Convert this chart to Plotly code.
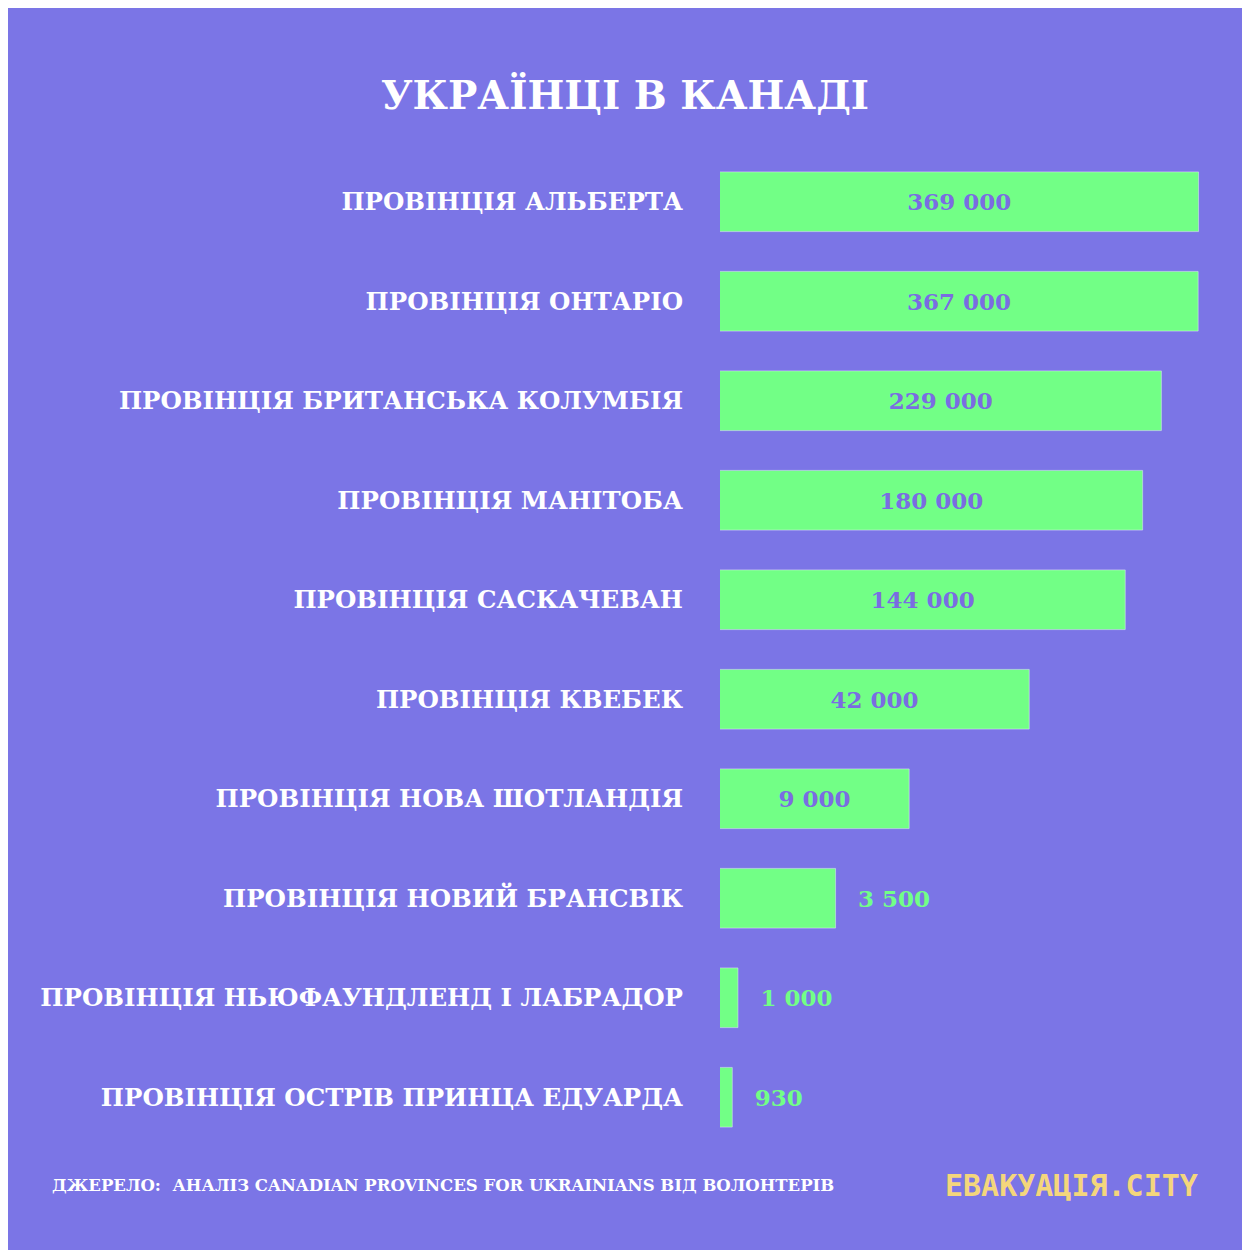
import plotly.graph_objects as go

provinces = ["ПРОВІНЦІЯ АЛЬБЕРТА","ПРОВІНЦІЯ ОНТАРІО","ПРОВІНЦІЯ БРИТАНСЬКА КОЛУМБІЯ",
             "ПРОВІНЦІЯ МАНІТОБА","ПРОВІНЦІЯ САСКАЧЕВАН","ПРОВІНЦІЯ КВЕБЕК",
             "ПРОВІНЦІЯ НОВА ШОТЛАНДІЯ","ПРОВІНЦІЯ НОВИЙ БРАНСВІК",
             "ПРОВІНЦІЯ НЬЮФАУНДЛЕНД І ЛАБРАДОР","ПРОВІНЦІЯ ОСТРІВ ПРИНЦА ЕДУАРДА"]
values = [369000, 367000, 229000, 180000, 144000, 42000, 9000, 3500, 1000, 930]
labels = ["369 000","367 000","229 000","180 000","144 000","42 000","9 000","3 500","1 000","930"]

BG = "#7B75E6"
GREEN = "#72FF86"
PURPLE = "#7A6CE2"
FONT = "DejaVu Serif"

positions = ["inside" if v >= 9000 else "outside" for v in values]
tcolors = [PURPLE if v >= 9000 else GREEN for v in values]
texts = [l if v >= 9000 else "\u2002 " + l for l, v in zip(labels, values)]

fig = go.Figure(go.Bar(
    x=values, y=provinces, orientation="h", marker_color=GREEN, width=0.6,
    text=texts, textposition=positions, insidetextanchor="middle",
    textfont=dict(color=tcolors, size=23, family=FONT, weight="bold"),
    outsidetextfont=dict(color=tcolors, size=23, family=FONT, weight="bold"),
    constraintext="none", cliponaxis=False, texttemplate="%{text}"))

fig.update_layout(
    width=1250, height=1250, paper_bgcolor=BG, plot_bgcolor=BG,
    margin=dict(l=712, r=58, t=144, b=111),
    showlegend=False,
    title=dict(text="<b>УКРАЇНЦІ В КАНАДІ</b>", x=(625-8)/1250, xanchor="center", y=1-(95-8)/1250, yanchor="middle",
               font=dict(family=FONT, size=39, color="white")),
    xaxis=dict(type="log", range=[2.9, 5.575], visible=False),
    yaxis=dict(autorange="reversed", showgrid=False, ticks="", ticklabelstandoff=36,
               tickfont=dict(family=FONT, size=24.5, color="white", weight="bold")),
    annotations=[
        dict(text="ДЖЕРЕЛО:  АНАЛІЗ CANADIAN PROVINCES FOR UKRAINIANS ВІД ВОЛОНТЕРІВ",
             xref="paper", yref="paper", x=0, y=-38/995, xanchor="left", yanchor="middle",
             showarrow=False, font=dict(family=FONT, size=16.5, color="white", weight="bold"), xshift=-670),
        dict(text="ЕВАКУАЦІЯ.CITY", xref="paper", yref="paper", x=1.0, y=-38/995,
             xanchor="right", yanchor="middle", showarrow=False,
             font=dict(family="DejaVu Sans Mono", size=30, color="#F4D67C", weight="bold")),
    ])
fig.write_html("out.html")
